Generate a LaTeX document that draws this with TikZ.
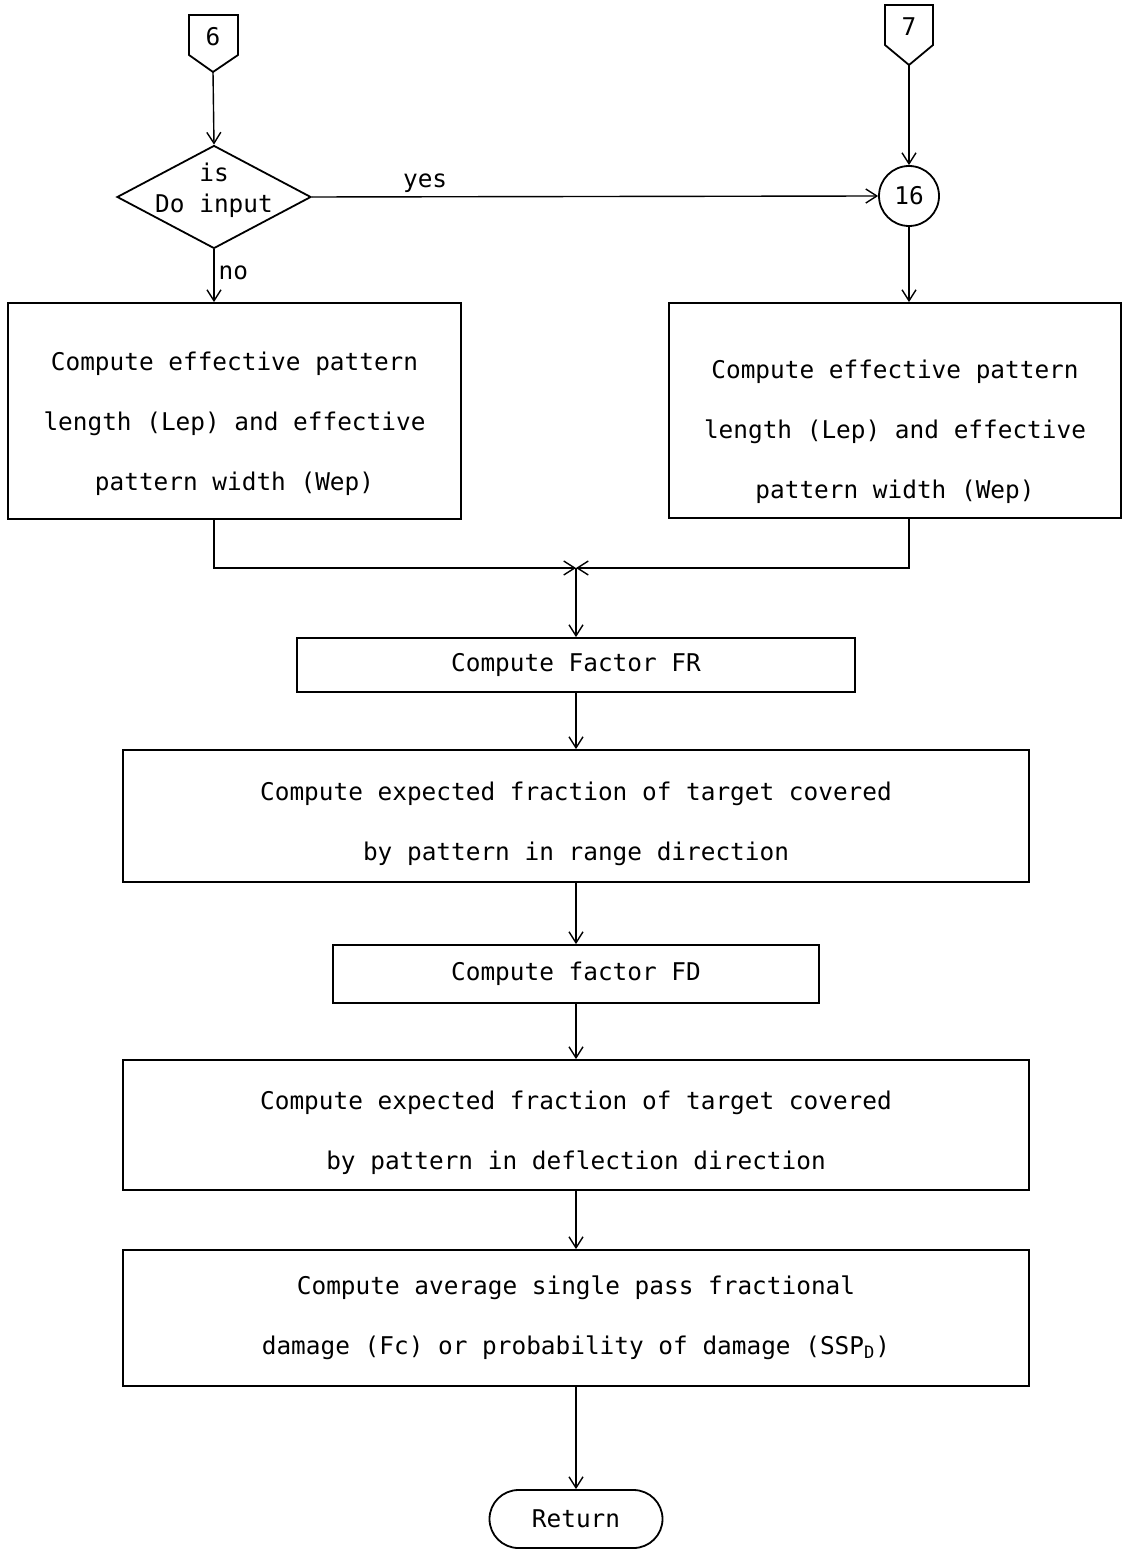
\documentclass[tikz,border=0pt]{standalone}
\usepackage{fontspec}
\setmonofont{DejaVu Sans Mono}
\usetikzlibrary{shapes.geometric,shapes.misc,arrows.meta,calc}

% centred lines, set lower in their box by #1 without changing its size
\newcommand\lowlines[2]{\raisebox{-#1}[\height][\depth]{\begin{tabular}{@{}c@{}}#2\end{tabular}}}

\begin{document}
\begin{tikzpicture}[x=0.5pt,y=-0.5pt,
  every node/.style={font=\ttfamily\fontsize{12.2}{30}\selectfont},
  outline/.style={draw,line width=0.9pt},
  box/.style={outline,rectangle,align=center,inner sep=0pt},
  flow/.style={line width=0.7pt,-{Straight Barb[length=5.5pt,width=7pt]}},
  lbl/.style={inner sep=2pt}
]
\useasboundingbox (0,0) rectangle (1124,1550);

% off-page connectors
\draw[outline] (189,15) coordinate (p6a) -- (238,15) -- (238,55) -- (213,72) coordinate (t6) -- (189,55) -- cycle;
\node (n6) at (213,37) {6};
\draw[outline] (885,5) coordinate (p7a) -- (933,5) -- (933,45) -- (909,65) coordinate (t7) -- (885,45) -- cycle;
\node (n7) at (909,27) {7};

% decision
\node[outline,diamond,minimum width=97pt,minimum height=51.5pt,inner sep=0pt] (D) at (214,197)
  {\smash{\makebox[0pt]{\fontsize{12.2}{15.5}\selectfont\begin{tabular}{@{}c@{}}is\\Do input\end{tabular}}}};

% connector circle
\node[outline,circle,minimum size=30pt,inner sep=0pt] (C16) at (909,196) {16};

% process boxes
\node[box,minimum width=226.5pt,minimum height=108pt] (L) at (234.5,411)
  {\lowlines{4pt}{Compute effective pattern\\length (Lep) and effective\\pattern width (Wep)}};
\node[box,minimum width=226pt,minimum height=107.5pt] (R) at (895,410.5)
  {\lowlines{8pt}{Compute effective pattern\\length (Lep) and effective\\pattern width (Wep)}};
\node[box,minimum width=279pt,minimum height=27pt] (FR) at (576,665) {Compute Factor FR};
\node[box,minimum width=453pt,minimum height=66pt] (B3) at (576,816)
  {\lowlines{1pt}{Compute expected fraction of target covered\\by pattern in range direction}};
\node[box,minimum width=243pt,minimum height=29pt] (FD) at (576,974) {Compute factor FD};
\node[box,minimum width=453pt,minimum height=65pt] (B5) at (576,1125)
  {\lowlines{1pt}{Compute expected fraction of target covered\\by pattern in deflection direction}};
\node[box,minimum width=453pt,minimum height=68pt] (B6) at (576,1318)
  {Compute average single pass fractional\\damage (Fc) or probability of damage (SSP\textsubscript{D})};
\node[outline,rounded rectangle,minimum width=86.5pt,minimum height=29pt,inner sep=0pt] (Ret) at (576,1519) {Return};

% connectors
\coordinate (J) at (576,568);
\draw[flow] (t6) -- (D.north);
\draw[flow] (t7) -- (C16.north);
\draw[flow] (D.east) -- node[lbl,above,pos=0.2] {yes} (C16.west);
\draw[flow] (D.south) -- node[lbl,right,pos=0.45] {no} (L.north -| D);
\draw[flow] (C16.south) -- (R.north -| C16);
\draw[flow] (L.south -| D) |- (J);
\draw[flow] (R.south -| C16) |- (J);
\draw[flow] (J) -- (FR.north);
\draw[flow] (FR.south) -- (B3.north);
\draw[flow] (B3.south) -- (FD.north);
\draw[flow] (FD.south) -- (B5.north);
\draw[flow] (B5.south) -- (B6.north);
\draw[flow] (B6.south) -- (Ret.north);
\end{tikzpicture}
\end{document}
